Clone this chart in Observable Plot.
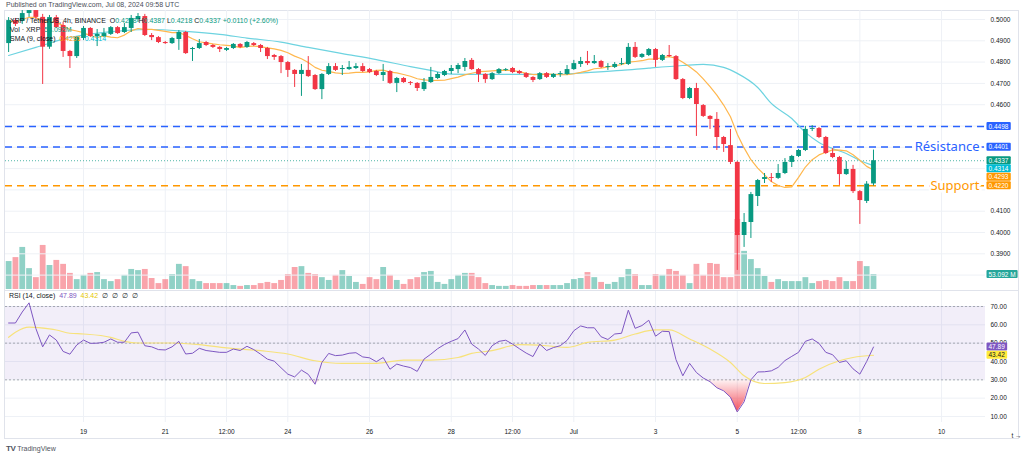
<!DOCTYPE html>
<html><head><meta charset="utf-8">
<script src="https://cdn.jsdelivr.net/npm/d3@7"></script>
<script src="https://cdn.jsdelivr.net/npm/@observablehq/plot@0.6"></script>
<style>
body{margin:0;background:#fff;font-family:"Liberation Sans",Arial,sans-serif;}
#wrap{position:relative;width:1024px;height:457px;overflow:hidden;background:#fff;}
#wrap svg{position:absolute;left:0;}
.t{position:absolute;white-space:nowrap;font-size:7px;line-height:8px;color:#131722;}
.g{color:#089981}
</style></head><body><div id="wrap"></div>
<script>
// ---------- data (XRP / TetherUS, 4h candles, first candle Jun 17 04:00 UTC) ----------
const open = [0.4887,0.4995,0.4991,0.5028,0.5042,0.5010,0.4870,0.5009,0.4972,0.4850,
 0.4826,0.4911,0.4958,0.4920,0.4920,0.4930,0.4962,0.4939,0.4958,0.5000,
 0.5014,0.4925,0.4915,0.4892,0.4887,0.4906,0.4939,0.4859,0.4864,0.4892,
 0.4878,0.4869,0.4855,0.4864,0.4883,0.4869,0.4887,0.4878,0.4864,0.4831,
 0.4826,0.4798,0.4761,0.4742,0.4761,0.4737,0.4671,0.4742,0.4779,0.4765,
 0.4765,0.4770,0.4779,0.4765,0.4756,0.4737,0.4756,0.4700,0.4723,0.4704,
 0.4700,0.4671,0.4704,0.4723,0.4737,0.4756,0.4765,0.4775,0.4808,0.4765,
 0.4742,0.4718,0.4746,0.4761,0.4770,0.4756,0.4746,0.4728,0.4718,0.4746,
 0.4728,0.4742,0.4742,0.4765,0.4789,0.4803,0.4793,0.4803,0.4775,0.4775,
 0.4789,0.4789,0.4869,0.4822,0.4831,0.4859,0.4808,0.4831,0.4826,0.4718,
 0.4629,0.4676,0.4596,0.4545,0.4531,0.4446,0.4408,0.4329,0.3986,0.4047,
 0.4169,0.4249,0.4258,0.4254,0.4277,0.4329,0.4357,0.4385,0.4484,0.4488,
 0.4446,0.4371,0.4352,0.4272,0.4296,0.4192,0.4146,0.4228];
const high = [0.5009,0.5005,0.5042,0.5055,0.5048,0.5024,0.5019,0.5019,0.4986,0.4855,
 0.4920,0.4967,0.4962,0.4953,0.4958,0.4967,0.4967,0.4981,0.5019,0.5028,
 0.5024,0.4934,0.4920,0.4897,0.4916,0.4948,0.4944,0.4869,0.4906,0.4897,
 0.4883,0.4873,0.4869,0.4887,0.4887,0.4897,0.4892,0.4883,0.4869,0.4836,
 0.4831,0.4803,0.4765,0.4789,0.4826,0.4742,0.4746,0.4793,0.4793,0.4784,
 0.4803,0.4793,0.4793,0.4770,0.4761,0.4789,0.4761,0.4728,0.4728,0.4709,
 0.4704,0.4723,0.4775,0.4751,0.4761,0.4784,0.4793,0.4817,0.4817,0.4770,
 0.4746,0.4751,0.4770,0.4770,0.4775,0.4761,0.4751,0.4732,0.4751,0.4751,
 0.4746,0.4756,0.4784,0.4808,0.4822,0.4850,0.4831,0.4808,0.4793,0.4798,
 0.4817,0.4887,0.4892,0.4840,0.4864,0.4864,0.4836,0.4878,0.4831,0.4723,
 0.4681,0.4700,0.4601,0.4549,0.4563,0.4451,0.4484,0.4333,0.4089,0.4188,
 0.4249,0.4277,0.4277,0.4319,0.4347,0.4362,0.4390,0.4498,0.4502,0.4493,
 0.4451,0.4394,0.4357,0.4333,0.4315,0.4197,0.4239,0.4387];
const low = [0.4845,0.4967,0.4977,0.5010,0.5000,0.4695,0.4860,0.4958,0.4822,0.4770,
 0.4817,0.4901,0.4916,0.4873,0.4916,0.4925,0.4930,0.4934,0.4939,0.4986,
 0.4920,0.4901,0.4887,0.4883,0.4883,0.4855,0.4836,0.4803,0.4859,0.4873,
 0.4864,0.4845,0.4850,0.4859,0.4864,0.4864,0.4873,0.4845,0.4812,0.4808,
 0.4746,0.4728,0.4681,0.4639,0.4728,0.4667,0.4624,0.4737,0.4756,0.4737,
 0.4761,0.4765,0.4751,0.4746,0.4732,0.4709,0.4695,0.4657,0.4700,0.4690,
 0.4662,0.4662,0.4700,0.4718,0.4732,0.4742,0.4746,0.4756,0.4761,0.4704,
 0.4700,0.4714,0.4742,0.4756,0.4746,0.4742,0.4723,0.4704,0.4714,0.4723,
 0.4723,0.4728,0.4737,0.4761,0.4775,0.4784,0.4789,0.4770,0.4761,0.4770,
 0.4784,0.4784,0.4817,0.4817,0.4826,0.4775,0.4803,0.4822,0.4714,0.4624,
 0.4624,0.4451,0.4540,0.4484,0.4385,0.4376,0.4319,0.3822,0.3930,0.3972,
 0.4122,0.4230,0.4235,0.4249,0.4272,0.4305,0.4352,0.4380,0.4474,0.4441,
 0.4366,0.4347,0.4221,0.4268,0.4183,0.4038,0.4136,0.4218];
const close = [0.4995,0.4977,0.5028,0.5042,0.5010,0.4870,0.5009,0.4962,0.4850,0.4826,
 0.4916,0.4958,0.4920,0.4930,0.4934,0.4962,0.4934,0.4962,0.5005,0.5014,
 0.4925,0.4915,0.4892,0.4887,0.4911,0.4939,0.4840,0.4864,0.4887,0.4878,
 0.4869,0.4859,0.4864,0.4883,0.4869,0.4892,0.4878,0.4864,0.4826,0.4822,
 0.4798,0.4761,0.4742,0.4761,0.4732,0.4671,0.4742,0.4779,0.4761,0.4770,
 0.4775,0.4779,0.4756,0.4751,0.4737,0.4751,0.4700,0.4723,0.4704,0.4700,
 0.4676,0.4704,0.4728,0.4742,0.4756,0.4770,0.4784,0.4803,0.4765,0.4742,
 0.4718,0.4746,0.4765,0.4765,0.4751,0.4746,0.4728,0.4714,0.4746,0.4728,
 0.4742,0.4746,0.4765,0.4793,0.4803,0.4793,0.4803,0.4775,0.4779,0.4789,
 0.4793,0.4869,0.4822,0.4836,0.4859,0.4808,0.4831,0.4826,0.4718,0.4629,
 0.4676,0.4601,0.4545,0.4531,0.4446,0.4413,0.4329,0.3986,0.4047,0.4178,
 0.4244,0.4258,0.4254,0.4277,0.4329,0.4357,0.4385,0.4484,0.4488,0.4446,
 0.4371,0.4352,0.4272,0.4296,0.4192,0.4150,0.4227,0.4337];
const volume = [99,113,149,74,42,156,85,103,89,57,
 35,50,57,60,35,28,35,50,71,67,
 71,39,21,35,53,89,81,35,28,21,
 21,21,21,14,11,14,14,21,25,21,
 32,53,78,81,57,53,42,32,50,67,
 46,25,18,42,35,78,50,32,18,35,
 42,60,64,25,18,35,50,57,57,42,
 21,14,11,11,14,11,11,14,14,14,
 14,14,21,35,39,60,42,25,18,25,
 42,71,53,14,14,53,50,71,64,50,
 21,89,50,92,89,42,42,248,135,106,
 74,46,25,35,28,28,28,42,21,28,
 32,28,42,28,28,99,81,53.092];
const rsi = [61,61,67,72,58,48,54.5,51.7,45.5,44,
 49,51.7,49.9,50,50.5,52.3,50.5,50.5,55.6,56,
 48.6,48,46.5,46.3,48,51,44.1,44.5,47.2,46,
 45.5,45,45,46.8,46,48.3,46.5,44,41.3,40.2,
 36.6,33.1,31.6,35.3,33,27.6,39.5,44.4,43.2,43.5,
 44.5,44.8,42.5,42,39.9,42.2,35.8,38.6,37.5,36.7,
 34.6,41.3,44,47,49.3,51,52.5,57.2,49.5,46.8,
 43.3,48.6,51,51.6,49.5,47,44.6,42.7,49.5,46,
 47.6,48.6,51.5,56.8,59.4,58.4,58.4,53.5,52,55,
 55.4,68,58.1,59.6,62.5,53.8,56.5,56.3,41,32.2,
 39,34,31,29,25.7,24,20.5,12.5,18,30,
 34.3,34.4,34.9,36.8,40.5,42.8,45,51,52.3,49.9,
 45,43.7,39.5,40.4,36,33.1,40,47.89];
// RSI-based MA, read at candle indexes
const rsiMaAt  = [0,1,3,6,7,9,11,15,17,19,24,28,32,37,41,45,49,54,58,62,66,68,71,75,79,82,85,89,92,95,97,100,103,106,108,111,114,117,119,122,124,127];
const rsiMaVal = [53.2,55.9,58.7,57.8,57.2,55.4,55,53.2,51,50.1,50.1,49.2,47.4,45.9,44.1,40.4,39,39,40.8,40.8,42.2,44.4,45.9,49.2,48.6,47.7,50.4,51.7,55,57.2,57.2,52.3,46.8,39.5,32.2,28,28.5,31.3,35.8,40.4,42.2,43.42];
// smoothing line (cyan), read at candle indexes
const slowAt  = [0,4,9,12,17,21,26,31,35,40,44,49,54,59,62,65,70,75,80,85,90,94,99,102,105,107,110,112,115,117,119,121,123,125,127];
const slowVal = [0.4831,0.4869,0.4916,0.4932,0.4948,0.4953,0.4944,0.4930,0.4913,0.4894,0.4869,0.4840,0.4812,0.4779,0.4761,0.4744,0.4742,0.4742,0.4742,0.4751,0.4761,0.4772,0.4784,0.4789,0.4775,0.4747,0.4681,0.4606,0.4535,0.4470,0.4423,0.4394,0.4371,0.4338,0.4314];
const resistance = [0.4498, 0.4401];
const support = [0.4220];
const priceTicks = [0.39,0.40,0.41,0.46,0.47,0.48,0.49,0.50];
const priceGrid = [0.38,0.39,0.40,0.41,0.42,0.43,0.44,0.45,0.46,0.47,0.48,0.49,0.50];
const rsiTicks = [10,20,30,40,50,60,70];
const tickDates = [[2024,5,19,0],[2024,5,21,0],[2024,5,22,12],[2024,5,24,0],[2024,5,26,0],[2024,5,28,0],[2024,5,29,12],[2024,6,1,0],[2024,6,3,0],[2024,6,5,0],[2024,6,6,12],[2024,6,8,0],[2024,6,10,0]];
const tickLabels = ["19","21","12:00","24","26","28","12:00","Jul","3","5","12:00","8","10"];
const smaLegend = ["0.4293","0.4314"];

// ---------- build ----------
const H4 = 4*3600*1000, t0 = Date.UTC(2024,5,17,4);
const candles = open.map((o,i)=>({t:new Date(t0+i*H4), o, h:high[i], l:low[i], c:close[i], v:volume[i], r:rsi[i]}));
const N = candles.length - 1;
const rsiMa = rsiMaAt.map((k,j)=>({t:candles[k].t, v:rsiMaVal[j]}));
const slow = slowAt.map((k,j)=>({t:candles[k].t, v:slowVal[j]}));
const ticks = tickDates.map(a=>new Date(Date.UTC(...a)));
const labelOf = new Map(ticks.map((d,i)=>[+d, tickLabels[i]]));
const xDomain = [new Date(Date.UTC(2024,5,17,2,10)), new Date(Date.UTC(2024,6,11,1,48))];
const UP="#089981", DN="#F23645";
const col = d => d.c>=d.o ? UP : DN;
const vcol = d => d.c>=d.o ? "rgba(8,153,129,0.45)" : "rgba(242,54,69,0.45)";
const f4 = d3.format(".4f");
const base = {width:1024, marginLeft:5, marginRight:39,
  x:{type:"utc", domain:xDomain, axis:null}, color:{type:"identity"},
  style:{background:"transparent", overflow:"visible", fontFamily:"Liberation Sans, Arial, sans-serif", color:"#131722"}};
const tagStyle = {"0.4498":["#2962FF","#fff"],"0.4401":["#2962FF","#fff"],"0.4337":["#089981","#fff"],"0.4314":["#00BCD4","#fff"],
  "0.4293":["#FF9800","#fff"],"0.4220":["#FF9800","#fff"],"53.092 M":["#26a69a","#fff"],"47.89":["#7E57C2","#fff"],"43.42":["#FFEB3B","#131722"]};
const tagShift = {"0.4314":3,"0.4293":7};
const tagMark = (v, fmt) => Plot.text([v], {y:d=>d, text:fmt, frameAnchor:"right", dx:3, dy:tagShift[fmt(v)]||0,
  textAnchor:"start", fontSize:6.5});

const vol = Plot.plot({...base, height:290, marginTop:10, marginBottom:1,
  y:{domain:[0,988], axis:null},
  marks:[
    Plot.ruleX(ticks, {stroke:"#eef1f6"}),
    Plot.ruleX(candles, {x:"t", y1:0, y2:"v", stroke:vcol, strokeWidth:5.8}),
    tagMark(volume[N], v=>d3.format(".3f")(v)+" M")
  ]});

const price = Plot.plot({...base, height:290, marginTop:10, marginBottom:1,
  y:{domain:[0.37324,0.50423], axis:null},
  marks:[
    Plot.ruleY(priceGrid, {stroke:"#eef1f6"}),
    Plot.ruleY(resistance, {stroke:"#2962FF", strokeWidth:1.5, strokeDasharray:"7,5"}),
    Plot.ruleY(support, {stroke:"#FF9800", strokeWidth:1.5, strokeDasharray:"7,5"}),
    Plot.ruleY([close[N]], {stroke:"#089981", strokeWidth:1, strokeDasharray:"1,2", strokeOpacity:0.7}),
    Plot.line(slow, {x:"t", y:"v", stroke:"#6dd3e0", strokeWidth:1.2, curve:"monotone-x", clip:true}),
    Plot.line(candles, Plot.windowY({k:9, anchor:"end"}, {x:"t", y:"c", stroke:"#FFB74D", strokeWidth:1.2, clip:true})),
    Plot.ruleX(candles, {x:"t", y1:"l", y2:"h", stroke:col, strokeWidth:1, clip:true}),
    Plot.ruleX(candles, {x:"t", y1:"o", y2:"c", stroke:col, strokeWidth:4.8, clip:true}),
    Plot.text([{label:"Résistance", v:resistance[1]}], {y:"v", text:"label", frameAnchor:"right", dx:-6, textAnchor:"end",
      fill:"#2962FF", stroke:"white", strokeWidth:5, fontSize:13, fontFamily:"Noto Sans, sans-serif"}),
    Plot.text([{label:"Support", v:support[0]}], {y:"v", text:"label", frameAnchor:"right", dx:-6, textAnchor:"end",
      fill:"#FF9800", stroke:"white", strokeWidth:5, fontSize:13, fontFamily:"Noto Sans, sans-serif"}),
    Plot.axisY(priceTicks, {anchor:"right", tickSize:0, tickPadding:5, tickFormat:f4, fontSize:6.5}),
    ...[resistance[0], resistance[1], close[N], slowVal[slowVal.length-1], +smaLegend[0], support[0]].map(v=>tagMark(v, f4))
  ]});

const NS="http://www.w3.org/2000/svg";
const defs = () => { const d=document.createElementNS(NS,"defs");
  d.innerHTML='<linearGradient id="osGrad" x1="0" y1="0" x2="0" y2="1"><stop offset="0" stop-color="#F23645" stop-opacity="0.05"/><stop offset="1" stop-color="#F23645" stop-opacity="0.85"/></linearGradient>';
  return d; };
const rsiPlot = Plot.plot({...base, height:150, marginTop:0, marginBottom:18,
  y:{domain:[6.73,78.73], axis:null},
  marks:[
    defs,
    Plot.ruleX(ticks, {stroke:"#eef1f6"}),
    Plot.ruleY(rsiTicks, {stroke:"#eef1f6"}),
    Plot.rect([0], {x1:()=>xDomain[0], x2:()=>xDomain[1], y1:30, y2:70, fill:"#7E57C2", fillOpacity:0.1}),
    Plot.ruleY([70,50,30], {stroke:"#9598a1", strokeDasharray:"2,2", strokeOpacity:0.8}),
    Plot.areaY(candles, {x:"t", y1:30, y2:d=>Math.min(d.r,30), fill:"url(#osGrad)"}),
    Plot.line(rsiMa, {x:"t", y:"v", stroke:"#F7E27B", strokeWidth:1.2, curve:"monotone-x"}),
    Plot.line(candles, {x:"t", y:"r", stroke:"#7E57C2", strokeWidth:1}),
    Plot.axisY(rsiTicks, {anchor:"right", tickSize:0, tickPadding:5, tickFormat:d3.format(".2f"), fontSize:6.5}),
    Plot.axisX(ticks, {anchor:"bottom", tickSize:0, tickPadding:7, tickFormat:d=>labelOf.get(+d), fontSize:6.5}),
    tagMark(rsi[N], v=>d3.format(".2f")(v)),
    tagMark(rsiMaVal[rsiMaVal.length-1], v=>d3.format(".2f")(v))
  ]});

const wrap = document.getElementById("wrap");
const frame = document.createElement("div");
frame.style.cssText="position:absolute;left:4px;top:10px;width:1013px;height:427px;border:1px solid #e0e3eb;";
wrap.appendChild(frame);
vol.style.top="0px"; price.style.top="0px"; rsiPlot.style.top="290px";
wrap.appendChild(vol); wrap.appendChild(price); wrap.appendChild(rsiPlot);
const sep = document.createElement("div");
sep.style.cssText="position:absolute;left:5px;top:290px;width:1013px;height:1px;background:#e0e3eb;";
wrap.appendChild(sep);

function boxTags(svg){
  Array.from(svg.querySelectorAll('text')).forEach(t=>{
    const s = tagStyle[t.textContent.trim()]; if(!s) return;
    let bb; try { bb = t.getBBox(); } catch(e) { return; }
    const r = document.createElementNS(NS,"rect");
    r.setAttribute("x", bb.x-2); r.setAttribute("y", bb.y-0.5);
    r.setAttribute("width", bb.width+4); r.setAttribute("height", bb.height+1);
    r.setAttribute("fill", s[0]); r.setAttribute("rx", 1);
    const tr = t.getAttribute("transform"); if(tr) r.setAttribute("transform", tr);
    t.parentNode.insertBefore(r, t);
    t.setAttribute("fill", s[1]); t.style.fill = s[1];
  });
}
[vol, price, rsiPlot].forEach(boxTags);

// ---------- text overlays ----------
const chg = close[N]-close[N-1];
const add = (html, css) => { const d=document.createElement("div"); d.className="t"; d.style.cssText=css; d.innerHTML=html; wrap.appendChild(d); };
add("Published on TradingView.com, Jul 08, 2024 09:58 UTC", "left:6px;top:1px;color:#4a4e59;");
add(`XRP / TetherUS, 4h, BINANCE&nbsp; O<span class=g>${f4(open[N])}</span>&nbsp;H<span class=g>${f4(high[N])}</span>&nbsp;L<span class=g>${f4(low[N])}</span>&nbsp;C<span class=g>${f4(close[N])}</span>&nbsp;<span class=g>+${f4(chg)} (+${d3.format(".2f")(chg/close[N-1]*100)}%)</span>`, "left:10px;top:17px;");
add(`Vol · XRP&nbsp; <span class=g>${d3.format(".3f")(volume[N])}M</span>`, "left:10px;top:26px;");
add(`SMA (9, close)&nbsp; <span style="color:#FF9800">${smaLegend[0]}</span>&nbsp; <span style="color:#00BCD4">${smaLegend[1]}</span>`, "left:10px;top:35px;");
add(`RSI (14, close)&nbsp; <span style="color:#7E57C2">${d3.format(".2f")(rsi[N])}</span>&nbsp; <span style="color:#E5C800">${d3.format(".2f")(rsiMaVal[rsiMaVal.length-1])}</span>&nbsp; ∅&nbsp; ∅&nbsp; ∅&nbsp; ∅`, "left:9px;top:292px;");
add(`<b style="font-size:8px;letter-spacing:-0.5px">TV</b>&nbsp;TradingView`, "left:6px;top:445px;color:#50535e;");
</script></body></html>
